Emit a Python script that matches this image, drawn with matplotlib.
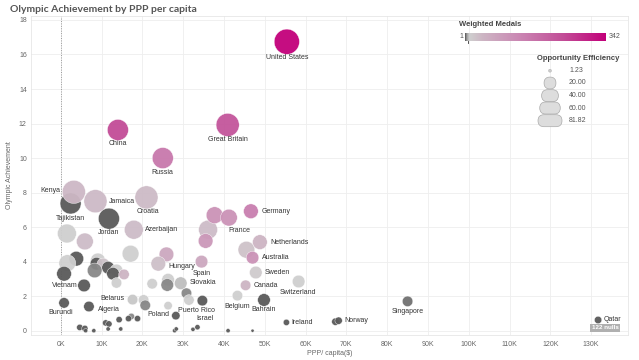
import numpy as np
import matplotlib
matplotlib.use("Agg")
import matplotlib.pyplot as plt
from matplotlib.colors import LinearSegmentedColormap, Normalize
from matplotlib.patches import FancyBboxPatch, Circle

plt.rcParams['font.family'] = ['Liberation Sans', 'DejaVu Sans']

# ---- data ----
country = ['United States', 'Great Britain', 'China', 'Russia', 'Tajikistan', 'Kenya',
           'Jamaica', 'Croatia', 'Jordan', 'Azerbaijan', '', '', '', '', '', 'France',
           '', '', 'Germany', 'Netherlands', '', 'Hungary', '', '', '', '', '', '', '',
           '', '', '', '', 'Vietnam', '', 'Spain', 'Australia', 'Sweden', 'Canada',
           'Switzerland', 'Slovakia', '', '', '', '', '', 'Belgium', 'Bahrain',
           'Puerto Rico', 'Singapore', 'Burundi', 'Algeria', 'Belarus', '', '', '',
           'Poland', '', 'Ireland', '', 'Norway', 'Qatar',
           '', '', '', '', '', '', '', '', '', '', '', '', '', '', 'Israel', '', '']
ppp_k = [55.4, 40.9, 14.0, 25.0, 2.4, 3.2,
         8.5, 21.0, 11.8, 17.9, 1.5, 5.9, 17.1, 36.1, 37.7, 41.2,
         45.5, 35.5, 46.6, 48.8, 25.9, 23.9, 3.8, 1.6, 9.1, 8.75, 10.4, 11.6, 8.3,
         13.65, 12.8, 15.5, 13.65, 0.8, 5.7, 34.5, 47.0, 47.8, 45.3,
         58.3, 29.4, 22.4, 26.3, 26.1, 30.8, 31.4, 43.3, 49.8,
         34.7, 85.0, 0.8, 6.9, 17.6, 20.3, 20.7, 26.3,
         28.2, 17.3, 55.3, 67.3, 68.1, 131.7,
         4.65, 5.9, 6.1, 8.1, 11.0, 11.8, 11.6, 14.3, 14.7, 16.6, 18.8, 27.9, 28.3,
         32.4, 33.5, 41.0, 47.0]
achievement = [16.74, 11.92, 11.63, 10.0, 7.37, 8.04,
               7.5, 7.72, 6.49, 5.85, 5.63, 5.17, 4.46, 5.85, 6.69, 6.55,
               4.69, 5.2, 6.92, 5.13, 4.42, 3.88, 4.17, 3.91, 4.07, 3.88, 3.84, 3.65, 3.49,
               3.49, 3.3, 3.26, 2.77, 3.3, 2.62, 4.0, 4.23, 3.37, 2.63,
               2.85, 2.75, 2.72, 2.95, 2.65, 2.17, 1.78, 2.03, 1.78,
               1.74, 1.7, 1.61, 1.4, 1.8, 1.78, 1.47, 1.45,
               0.87, 0.83, 0.48, 0.52, 0.58, 0.62,
               0.19, 0.13, 0.0, 0.0, 0.45, 0.39, 0.1, 0.64, 0.1, 0.7, 0.7, 0.0, 0.1,
               0.08, 0.2, 0.0, 0.0]
opp_eff = [81.8, 68.7, 56.8, 56.8, 56.8, 68.7,
           68.7, 68.7, 56.8, 46.0, 46.0, 36.4, 36.4, 46.0, 36.4, 36.4,
           36.4, 27.8, 27.8, 27.8, 27.8, 27.8, 27.8, 36.4, 27.8, 20.5, 20.5, 20.5, 27.8,
           20.5, 20.5, 14.2, 14.2, 27.8, 20.5, 20.5, 20.5, 20.5, 14.2,
           20.5, 20.5, 14.2, 20.5, 20.5, 14.2, 14.2, 14.2, 20.5,
           14.2, 14.2, 14.2, 14.2, 14.2, 14.2, 14.2, 9.1,
           9.1, 5.1, 5.1, 7.0, 7.0, 7.0,
           5.1, 5.1, 2.3, 2.3, 5.1, 5.1, 2.3, 5.1, 2.3, 5.1, 5.1, 2.3, 2.3,
           2.3, 3.6, 2.3, 1.3]
w_medals = [342, 225, 240, 160, 1, 40,
            38, 36, 1, 35, 12, 35, 12, 35, 110, 110,
            28, 100, 150, 45, 70, 30, 2, 12, 12, 2, 25, 2, 4,
            12, 1, 45, 12, 1, 2, 70, 110, 16, 45,
            12, 10, 12, 12, 4, 4, 12, 12, 2,
            1, 3, 1, 1, 11, 12, 4, 12,
            1, 4, 1, 1, 1, 1,
            1, 1, 1, 1, 1, 1, 1, 1, 1, 1, 1, 1, 1,
            1, 1, 1, 1]

x_ticks = list(range(0, 140, 10))
x_tick_labels = ['%dK' % t for t in x_ticks]
y_ticks = list(range(0, 20, 2))
size_legend = [1.23, 20.00, 40.00, 60.00, 81.82]
medal_range = (1, 342)

# label placement: offset from bubble centre in pixels (right, down) + alignment
label_pos = {
    'United States': (0, 16, 'center'), 'Great Britain': (0, 15, 'center'),
    'China': (0, 14, 'center'), 'Russia': (0, 14, 'center'),
    'Kenya': (-13, -1.5, 'right'), 'Tajikistan': (0, 15, 'center'),
    'Jamaica': (13, 0, 'left'), 'Croatia': (1, 14.5, 'center'),
    'Jordan': (0, 14, 'center'), 'Azerbaijan': (11, 0, 'left'),
    'Hungary': (10, 2.7, 'left'), 'Spain': (0, 12, 'center'),
    'Slovakia': (9, -1, 'left'), 'Vietnam': (0.7, 11.7, 'center'),
    'Burundi': (-3, 10, 'center'), 'Algeria': (9, 3.3, 'left'),
    'Belarus': (-7.7, -1.3, 'right'), 'Poland': (-6.7, -1, 'right'),
    'Puerto Rico': (-5.4, 10, 'center'), 'Israel': (8, -9, 'center'),
    'France': (10, 12.7, 'center'), 'Germany': (10.7, 0, 'left'),
    'Netherlands': (10.7, 0, 'left'), 'Australia': (9, 0, 'left'),
    'Sweden': (9, 0, 'left'), 'Canada': (8, 0, 'left'),
    'Switzerland': (-1, 11.3, 'center'), 'Belgium': (0, 10.7, 'center'),
    'Bahrain': (0, 9.7, 'center'), 'Ireland': (5, 0, 'left'),
    'Norway': (6, 0, 'left'), 'Singapore': (0, 10, 'center'),
    'Qatar': (5.5, 0, 'left'),
}

cmap = LinearSegmentedColormap.from_list('medals', [
    (0.0, '#5a5a5a'), (0.012, '#a0a0a0'), (0.03, '#cfcfcf'), (0.12, '#cdb6c4'),
    (0.4, '#ca84b2'), (0.7, '#c24d97'), (1.0, '#c2007a')])
norm = Normalize(*medal_range)


def bubble_size(v):
    # area in pt^2, 81.82 -> ~25 px diameter
    return 330.0 * np.asarray(v) / 81.82


fig = plt.figure(figsize=(6.39, 3.6), dpi=100)
ax = fig.add_axes([31 / 639, 1 - 335 / 360, (628.3 - 31) / 639, (335 - 16) / 360])

ax.scatter(ppp_k, achievement, s=bubble_size(opp_eff), c=w_medals, cmap=cmap, norm=norm,
           edgecolors='white', linewidths=0.3, alpha=0.95, zorder=3)

for name, x, y in zip(country, ppp_k, achievement):
    if not name:
        continue
    dx, dy, ha = label_pos[name]
    ax.annotate(name, (x, y), xytext=(dx * 0.72, -dy * 0.72), textcoords='offset points',
                ha=ha, va='center', fontsize=5, color='#333333', zorder=4)

ax.axvline(0, color='#999999', linestyle=(0, (1, 1.5)), linewidth=0.7, zorder=2)

ax.set_xlim(-7.3, 139.1)
ax.set_ylim(-0.25, 18.23)
ax.set_xticks(x_ticks)
ax.set_xticklabels(x_tick_labels)
ax.set_yticks(y_ticks)
ax.grid(True, color='#eeeeee', linewidth=0.6, zorder=0)
ax.set_axisbelow(True)
ax.tick_params(length=0, labelsize=5, labelcolor='#666666')
ax.tick_params(axis='y', pad=3)
ax.tick_params(axis='x', pad=4)
for sp in ax.spines.values():
    sp.set_color('#e6e6e6')
    sp.set_linewidth(0.6)
ax.set_xlabel('PPP/ capita($)', fontsize=5, color='#666666', labelpad=2)
ax.set_ylabel('Olympic Achievement', fontsize=5, color='#666666', labelpad=4)

# overlay in pixel coordinates for title and legends
ov = fig.add_axes([0, 0, 1, 1], zorder=10)
ov.set_xlim(0, 639)
ov.set_ylim(360, 0)
ov.axis('off')

ov.text(10, 9, 'Olympic Achievement by PPP per capita', fontsize=7.5, fontweight='bold',
        family=['Lato', 'DejaVu Sans'], color='#555555', va='center', ha='left')

# colour legend
ov.text(459, 24, 'Weighted Medals', fontsize=5.5, fontweight='bold', color='#444444',
        va='center', ha='left')
grad = np.linspace(0, 1, 256).reshape(1, -1)
ov.imshow(grad, cmap=cmap, aspect='auto', extent=(465, 606, 40.7, 32.7), zorder=11)
ov.plot([467.5, 467.5], [40.7, 43], color='#333333', linewidth=0.6, zorder=12)
ov.text(463, 36.7, str(medal_range[0]), fontsize=5, color='#555555', va='center', ha='right')
ov.text(609, 36.7, str(medal_range[1]), fontsize=5, color='#555555', va='center', ha='left')

# size legend
ov.text(578, 59, 'Opportunity Efficiency', fontsize=5.5, fontweight='bold', color='#444444',
        va='center', ha='center')
row_y = [70.7, 83, 95.7, 108, 120.7]
for v, yc in zip(size_legend, row_y):
    r = 12 * np.sqrt(v / 81.82)
    h = min(2 * r, 12)
    if r < 3:
        ov.add_patch(Circle((550, yc), r, facecolor='#cccccc', edgecolor='#aaaaaa',
                            linewidth=0.3, zorder=11))
    else:
        ov.add_patch(FancyBboxPatch((550 - r, yc - h / 2), 2 * r, h,
                                    boxstyle='round,pad=0,rounding_size=%.2f' % min(r, h / 2),
                                    facecolor='#dddddd', edgecolor='#aaaaaa',
                                    linewidth=0.5, zorder=11))
    ov.text(569, yc, '%.2f' % v, fontsize=5, color='#555555', va='center', ha='left')

# nulls badge
ov.text(605, 327.7, '122 nulls', fontsize=4.5, fontweight='bold', color='white',
        va='center', ha='center',
        bbox=dict(boxstyle='square,pad=0.25', facecolor='#b0b0b0', edgecolor='none'))

fig.savefig('out.png', dpi=100)
